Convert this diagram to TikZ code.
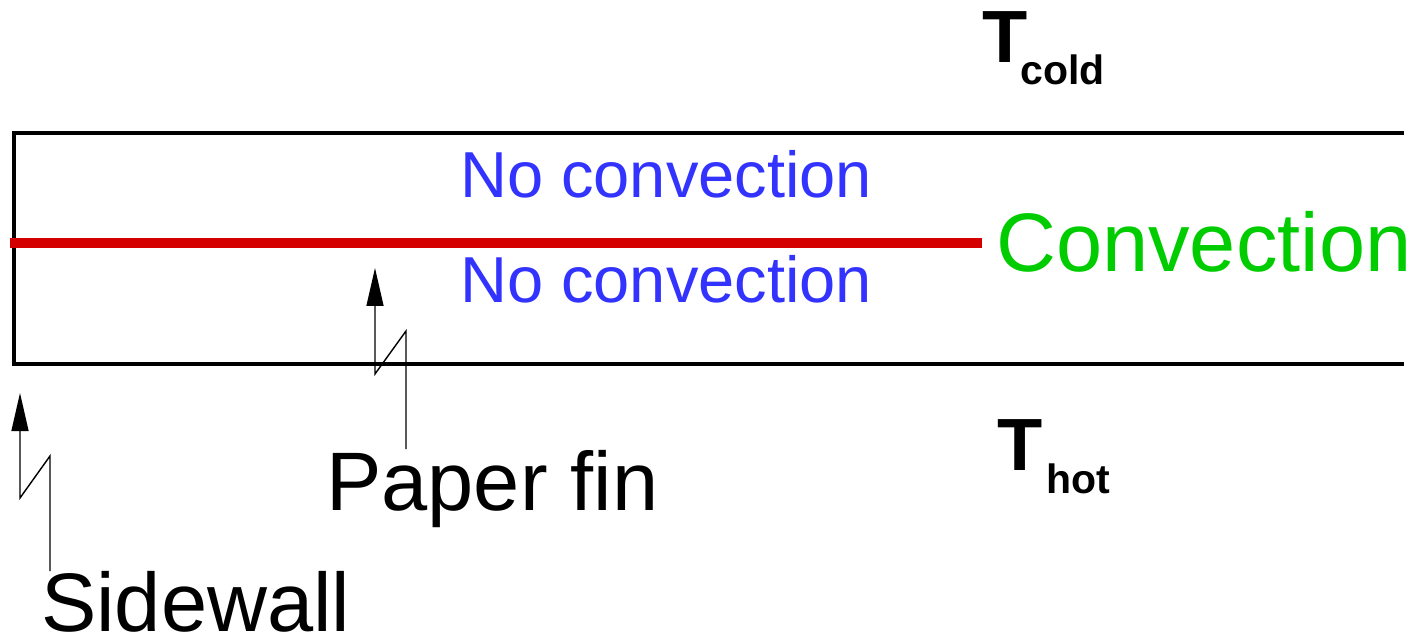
\documentclass[tikz,border=0pt]{standalone}
\usepackage{fontspec}
\setmainfont{Liberation Sans}
\usetikzlibrary{arrows.meta}
\definecolor{finred}{RGB}{212,0,0}
\definecolor{convgreen}{RGB}{0,204,0}
\definecolor{noblue}{RGB}{51,51,255}
\begin{document}
\begin{tikzpicture}[x=1pt,y=-1pt,
  wall/.style={line width=4pt, line join=miter},
  fin/.style={line width=10pt, finred},
  lbl/.style={inner sep=0pt, anchor=base west},
  big/.style={lbl, font=\fontsize{83}{90}\selectfont},
  mid/.style={lbl, font=\fontsize{65}{72}\selectfont, text=noblue},
  tbig/.style={lbl, font=\bfseries\fontsize{74}{74}\selectfont},
  tsub/.style={lbl, font=\bfseries\fontsize{41}{41}\selectfont},
  pointer/.style={line width=1.4pt, -{Triangle[length=38pt,width=17pt]}}]
\useasboundingbox (0,0) rectangle (1424,644);
% box (open on the right)
\draw[wall] (1404,133) -- (14,133) -- (14,364) -- (1404,364);
% paper fin
\draw[fin] (10,243) -- (982,243);
% labels
\node[big, text=convgreen] (conv) at (996,272) {Convection};
\node[mid] (nc1) at (460,198) {No convection};
\node[mid] (nc2) at (460,303) {No convection};
\node[big] (pf) at (326,510) {Paper fin};
\node[big, text depth=0pt] (sw) at (41,631) {Sidewall};
\node[tbig] (tc) at (982,63) {T};
\node[tsub] (tcs) at (1020,85) {cold};
\node[tbig] (th) at (997,470) {T};
\node[tsub] (ths) at (1046,493) {hot};
% pointer arrows
\coordinate (pfstart) at (406,449);
\coordinate (pfz1) at (406,331);
\coordinate (pfz2) at (375,374);
\coordinate (pftip) at (375,268);
\draw[pointer] (pfstart) -- (pfz1) -- (pfz2) -- (pftip);
\coordinate (swstart) at (50,571);
\coordinate (swz1) at (50,456);
\coordinate (swz2) at (20,498);
\coordinate (swtip) at (20,393);
\draw[pointer] (swstart) -- (swz1) -- (swz2) -- (swtip);
\end{tikzpicture}
\end{document}
